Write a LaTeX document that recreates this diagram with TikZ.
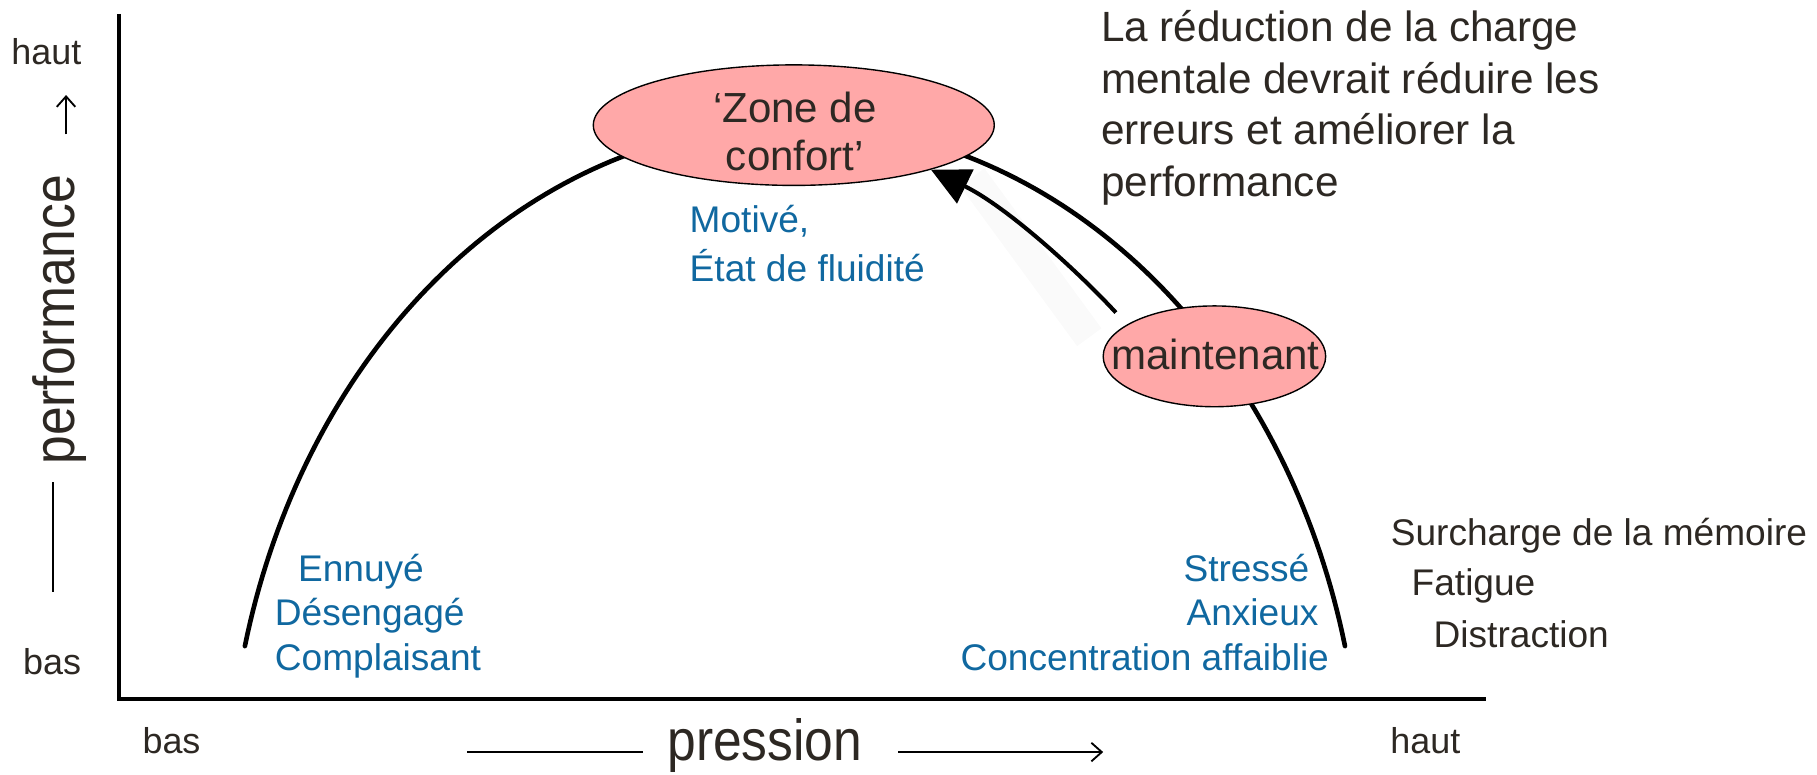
\documentclass[tikz,border=0pt]{standalone}
\usepackage{fontspec}
\setmainfont{Liberation Sans}
\usetikzlibrary{shapes.geometric,arrows.meta}
\definecolor{txt}{RGB}{45,40,35}
\definecolor{blu}{RGB}{16,104,160}
\definecolor{pinkfill}{RGB}{255,168,168}
\newcommand{\fsz}[2]{\fontsize{#1}{#2}\selectfont}
\begin{document}
\begin{tikzpicture}[x=1pt,y=-1pt,
  lab/.style={inner sep=0pt, text=txt},
  bl/.style={inner sep=0pt, text=blu, font=\fsz{32}{38}},
  rt/.style={inner sep=0pt, text=txt, font=\fsz{32}{38}, anchor=base west},
  para/.style={inner sep=0pt, text=txt, font=\fsz{36.5}{44}, anchor=base west},
  bubble/.style={ellipse, draw, line width=1.2pt, fill=pinkfill, inner sep=0pt},
  bubbletext/.style={inner sep=0pt, text=txt, font=\fsz{36.3}{42}, anchor=base},
  axisline/.style={line width=3.5pt},
  thin/.style={line width=1.6pt},
  barb/.style={-{Straight Barb[length=9pt,width=16pt]}}]
\useasboundingbox (0,0) rectangle (1568,668);

% main performance curve
\draw[line width=4pt, line cap=round] plot[domain=166.1:13.9, samples=150] ({686+489*cos(\x)},{700-593*sin(\x)});

% axes
\draw[axisline] (103,12) -- (103,603) -- (1282,603);

% bubbles
\node[bubble, minimum width=346pt, minimum height=104pt] (zone) at (685,108) {};
\node[bubbletext] (zone1) at (686,105.5) {‘Zone de};
\node[bubbletext] (zone2) at (686,147.5) {confort’};
\node[bubble, minimum width=192pt, minimum height=87pt] (maint) at (1048,307.5) {};
\node[bubbletext] (mtxt) at (1049,318.5) {maintenant};

% arrow with faint glow
\draw[line width=26pt, black!2] (839,153) -- (940,291);
\draw[line width=3.5pt, shorten <=14pt, -{Triangle[length=33pt,width=32pt]}] (maint.160) .. controls (928,232) and (868,178) .. (zone.-18);

% blue labels
\node[bl, anchor=base west] (mot) at (595,201) {Motivé,};
\node[bl, anchor=base west] (etat) at (595,243) {État de fluidité};
\node[bl, anchor=base west] (ennu) at (257,502) {Ennuyé};
\node[bl, anchor=base west] (dese) at (237,540) {Désengagé};
\node[bl, anchor=base west] (comp) at (237,579) {Complaisant};
\node[bl, anchor=base east] (stre) at (1130,502) {Stressé};
\node[bl, anchor=base east] (anxi) at (1138,540) {Anxieux};
\node[bl, anchor=base east] (conc) at (1147,579) {Concentration affaiblie};

% right texts
\node[para] (p1) at (950,36) {La réduction de la charge};
\node[para] (p2) at (950,81) {mentale devrait réduire les};
\node[para] (p3) at (950,125) {erreurs et améliorer la};
\node[para] (p4) at (950,170) {performance};
\node[rt] (s1) at (1200,471) {Surcharge de la mémoire};
\node[rt] (s2) at (1218,514) {Fatigue};
\node[rt] (s3) at (1237,559) {Distraction};

% axis labels
\node[lab, font=\fsz{31}{30}] (hauty) at (40,45) {haut};
\node[lab, font=\fsz{31}{30}] (basy) at (45,571) {bas};
\node[lab, font=\fsz{31}{30}, anchor=base] (basx) at (148,650) {bas};
\node[lab, font=\fsz{31}{30}, anchor=base] (hautx) at (1230,650) {haut};
\node[lab, rotate=90, font=\fsz{50}{50}] (perf) at (51,276) {\scalebox{0.89}[1]{performance}};
\node[lab, font=\fsz{50}{50}, anchor=base] (pres) at (660,656) {\scalebox{0.89}[1]{pression}};

\coordinate (ua) at (57,116);
\coordinate (ub) at (57,82);
\coordinate (la) at (46,416);
\coordinate (lb) at (46,511);
\coordinate (xa) at (403,649);
\coordinate (xb) at (555,649);
\coordinate (xc) at (775,649);
\coordinate (xd) at (952,649);
\draw[thin, barb] (ua) -- (ub);
\draw[thin] (la) -- (lb);
\draw[thin] (xa) -- (xb);
\draw[thin, barb] (xc) -- (xd);
\end{tikzpicture}
\end{document}
